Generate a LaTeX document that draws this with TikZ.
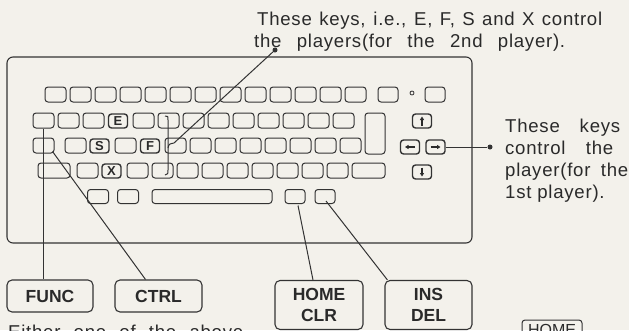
\documentclass[tikz,border=0pt]{standalone}
\usepackage{fontspec}
\setmainfont{Liberation Sans}
\newfontfamily\spaced[LetterSpace=4]{Liberation Sans}
\usetikzlibrary{arrows.meta}
\definecolor{bg}{HTML}{F3F1EB}
\definecolor{ink}{HTML}{333333}
\definecolor{txt}{HTML}{2A2A2A}
\tikzset{
  key/.style={draw=ink, line width=1pt, rounded corners=3pt, minimum width=21pt, minimum height=15pt, inner sep=0pt},
  lkey/.style={key, line width=1.4pt, minimum width=19pt, minimum height=14pt, text=txt, font=\bfseries\fontsize{13}{13}\selectfont},
  conn/.style={draw=ink, line width=1pt},
  arr/.style={draw=txt, line width=1.2pt, -{Triangle[length=3.5pt,width=4pt]}},
  dot/.style={circle, fill=ink, minimum size=5pt, inner sep=0pt},
  lbl/.style={draw=ink, line width=1.1pt, rounded corners=5pt, inner sep=0pt, align=center, text=txt, font=\bfseries\fontsize{17.5}{21}\selectfont},
  body/.style={anchor=base west, inner sep=0pt, text=txt, font=\spaced\fontsize{18.6}{22}\selectfont}
}
\begin{document}
\begin{tikzpicture}[x=1pt,y=-1pt]
\useasboundingbox (0,0) rectangle (629,330);
\clip (0,0) rectangle (629,330);
\fill[bg] (0,0) rectangle (629,330);

% keyboard outline
\node[draw=ink, line width=1.1pt, rounded corners=6pt, minimum width=465pt, minimum height=186pt, inner sep=0pt] (kb) at (239.5,150) {};

% row 1
\foreach \i in {0,...,12} \node[key] (r1-\i) at ({55.5+25*\i},94.5) {};
\node[key, minimum width=20pt] (r1-a) at (388,94.5) {};
\node[circle, draw=ink, line width=0.8pt, minimum size=4pt, inner sep=0pt] (deg) at (412,93) {};
\node[key, minimum width=20pt] (r1-b) at (435,94.5) {};

% row 2
\foreach \i in {0,1,2,4,5,6,7,8,9,10,11,12} \node[key] (r2-\i) at ({43.5+25*\i},120.5) {};
\node[lkey] (r2-3) at (118,121) {E};
\node[key, minimum width=20pt, minimum height=41pt] (tall) at (375,133.5) {};
\node[lkey] (up) at (422,121) {};

% row 3
\node[key] (r3-a) at (43.5,145.5) {};
\foreach \i in {0,2,4,5,6,7,8,9,10,11} \node[key] (r3-\i) at ({75.5+25*\i},145.5) {};
\node[lkey] (r3-1) at (99.5,146) {S};
\node[lkey] (r3-3) at (150,146) {F};
\node[lkey] (left) at (410,147) {};
\node[lkey] (right) at (435.5,147) {};

% row 4
\node[key, minimum width=32pt] (r4-a) at (54,170.5) {};
\foreach \i in {0,2,3,4,5,6,7,8,9,10} \node[key] (r4-\i) at ({87.5+25*\i},170.5) {};
\node[lkey] (r4-1) at (111.5,171) {X};
\node[key, minimum width=33pt] (r4-b) at (368.5,170.5) {};
\node[lkey] (down) at (422,172) {};

% row 5
\node[key, minimum height=14pt] (r5-1) at (98,196.5) {};
\node[key, minimum height=14pt] (r5-2) at (128,196.5) {};
\node[key, minimum height=14pt, minimum width=120pt] (space) at (212,196.5) {};
\node[key, minimum height=14pt, minimum width=20pt] (homekey) at (295,196.5) {};
\node[key, minimum height=14pt, minimum width=20pt] (inskey) at (325,196.5) {};

% arrows in keys
\draw[arr] ([yshift=-4.5pt]up.center) -- ([yshift=4.5pt]up.center);
\draw[arr] ([yshift=4.5pt]down.center) -- ([yshift=-4.5pt]down.center);
\draw[arr] ([xshift=5pt]left.center) -- ([xshift=-5pt]left.center);
\draw[arr] ([xshift=-5pt]right.center) -- ([xshift=5pt]right.center);

% top text
\node[body] (t1) at (257,25) {\makebox[345pt][s]{These keys, i.e., E, F, S and X control}};
\node[body] (t2) at (254,47) {\makebox[311pt][s]{the players(for the 2nd player).}};
\node[dot] (tdot) at (275,50) {};

% brace
\coordinate (btop) at (165,116);
\coordinate (bbot) at (165,175);
\coordinate (bmid) at (168,148);
\draw[conn] (btop) .. controls (168,116) .. (168,120) -- (168,170) .. controls (168,174) .. (bbot);
\draw[conn] (bmid) .. controls (169,144) .. (174,143) -- (tdot);

% right text
\node[dot] (rdot) at (490,147) {};
\draw[conn] (right.east) -- (rdot);
\node[body] (s1) at (505,132) {\makebox[115pt][s]{These keys}};
\node[body] (s2) at (505,154) {\makebox[108pt][s]{control the}};
\node[body] (s3) at (505,176) {\makebox[123pt][s]{player(for the}};
\node[body] (s4) at (505,198) {1st player).};

% label boxes
\node[lbl, minimum width=86pt, minimum height=32pt] (func) at (50,296) {FUNC};
\node[lbl, minimum width=87pt, minimum height=32pt] (ctrl) at (158.5,296) {CTRL};
\node[lbl, minimum width=88pt, minimum height=49pt] (homebox) at (319,305) {HOME\\CLR};
\node[lbl, minimum width=87pt, minimum height=49pt] (insbox) at (428.5,305) {INS\\DEL};

\draw[conn] (r2-0.south) -- (r2-0.south |- func.north);
\draw[conn] ([shift={(-2pt,2pt)}]r3-a.south east) -- ([xshift=-13pt]ctrl.north);
\draw[conn] ([xshift=3pt,yshift=-1.5pt]homekey.south) -- ([xshift=-6pt]homebox.north);
\draw[conn] ([xshift=1pt,yshift=3pt]inskey.south) -- ([xshift=3pt]insbox.north west);

% bottom text
\node[body] (either) at (8,338.5) {\makebox[235pt][s]{Either one of the above}};
\node[draw=ink, line width=1pt, rounded corners=3pt, minimum width=60pt, minimum height=20pt, inner sep=0pt, text=txt, font=\fontsize{16}{16}\selectfont] (homeleg) at (552,330) {HOME};
\end{tikzpicture}
\end{document}
